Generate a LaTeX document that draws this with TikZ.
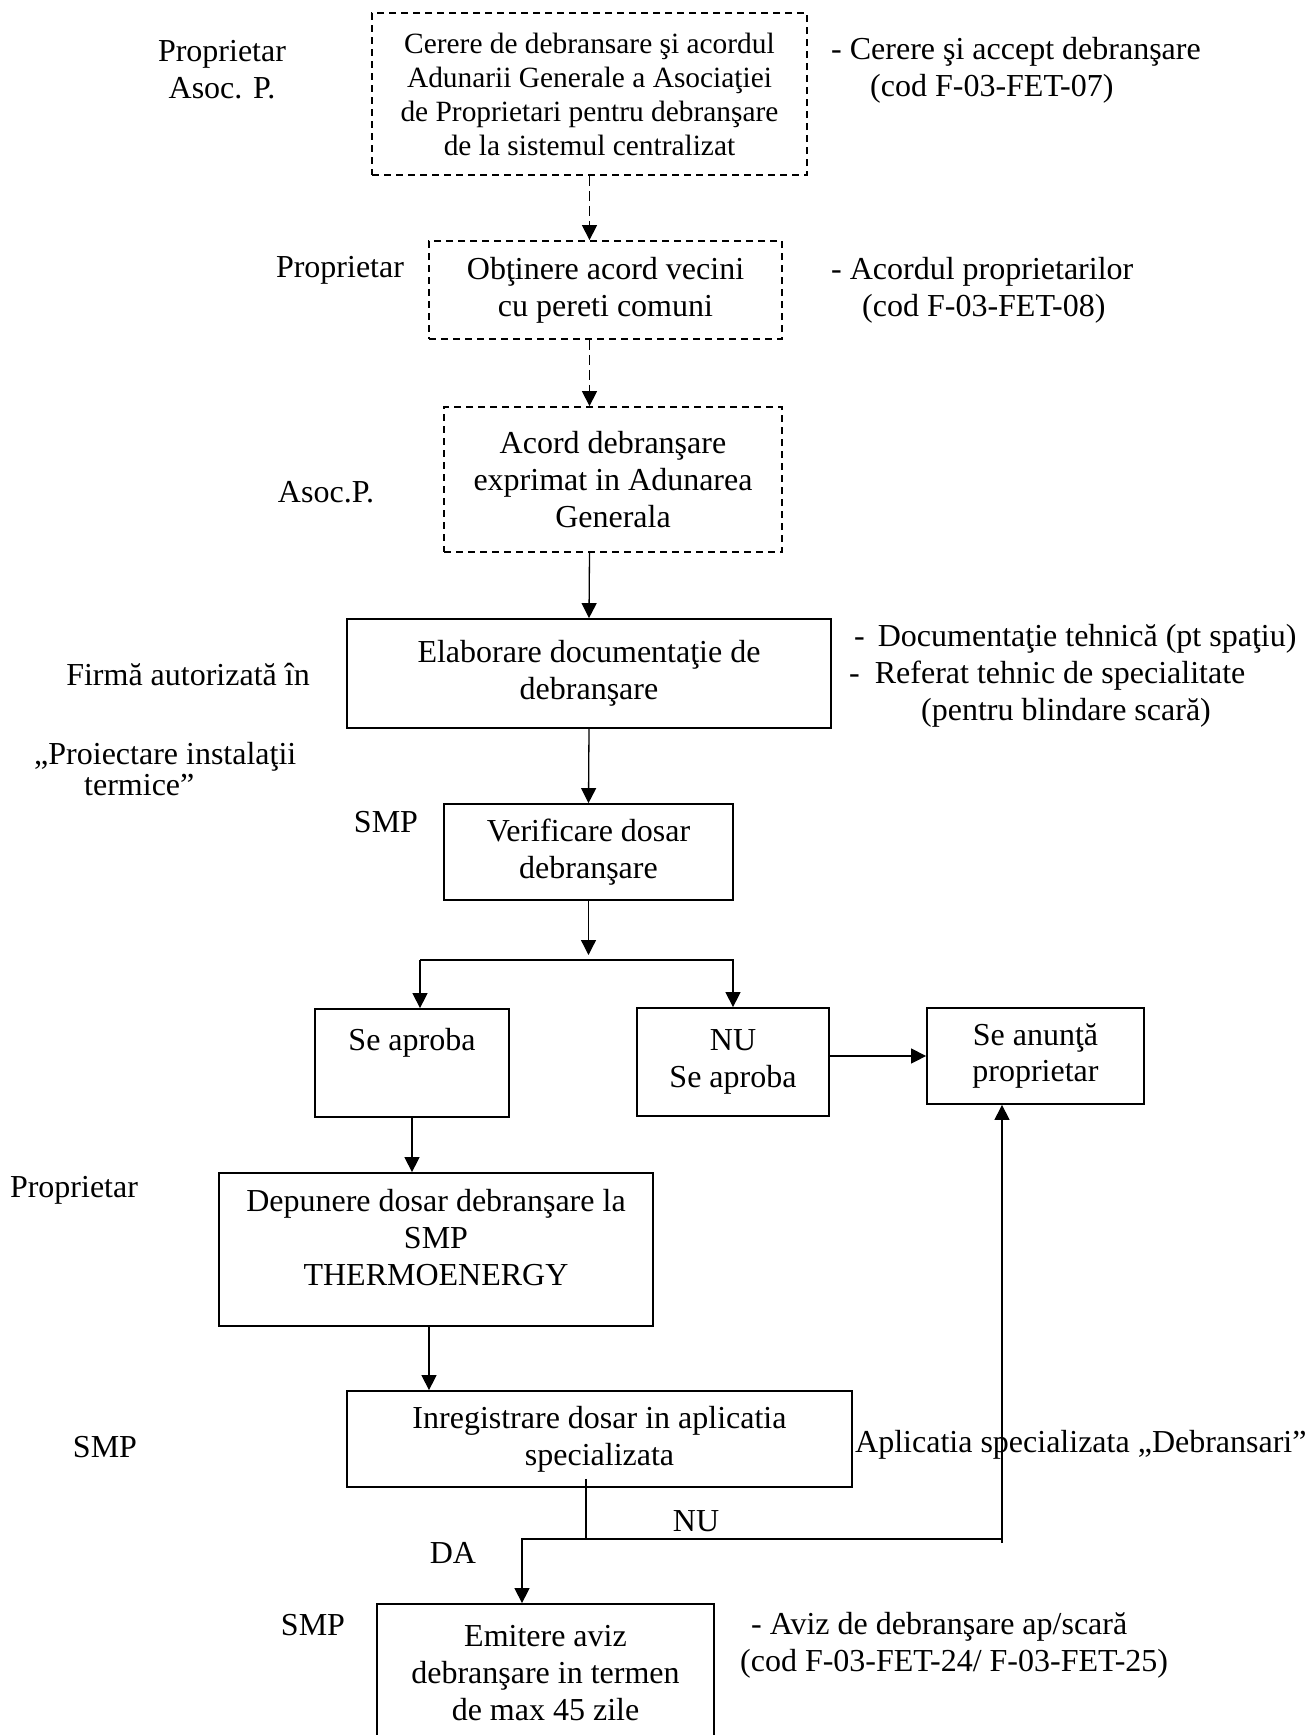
\documentclass[tikz,border=0pt]{standalone}
\usepackage{fontspec}
\setmainfont{Liberation Serif}
\usetikzlibrary{calc, positioning}
\usetikzlibrary{arrows.meta}

\tikzset{
  box/.style={draw, line width=1.8pt, align=center, inner sep=0pt},
  dbox/.style={box, dash pattern=on 7pt off 5pt},
  arr/.style={-{Triangle[length=15pt,width=15pt]}, line width=1.3pt},
  darr/.style={arr, dash pattern=on 10pt off 5pt},
  lbl/.style={align=left, inner sep=0pt},
}

\begin{document}
\begin{tikzpicture}[x=1pt,y=-1pt,font=\fontsize{32}{36.8}\selectfont]
\useasboundingbox (0,0) rectangle (1312,1735);
\node[dbox, minimum width=435pt, minimum height=162pt, font=\fontsize{29.4}{34}\selectfont] (cerere) at (589.5,94) {Cerere de debransare şi acordul\\Adunarii Generale a Asociaţiei\\de Proprietari pentru debranşare\\de la sistemul centralizat};
\node[dbox, minimum width=353pt, minimum height=98pt] (vecini) at (605.5,290) {Obţinere acord vecini\\cu pereti comuni};
\node[dbox, minimum width=338pt, minimum height=145pt] (adunare) at (613,479.5) {Acord debranşare\\exprimat in Adunarea\\Generala};
\node[box, minimum width=484pt, minimum height=109pt] (elab) at (589,673.5) {Elaborare documentaţie de\\debranşare};
\node[box, minimum width=289pt, minimum height=96pt] (verif) at (588.5,852) {Verificare dosar\\debranşare};
\node[box, minimum width=194pt, minimum height=108pt] (aproba) at (412,1063) {Se aproba\\\strut};
\node[box, minimum width=192pt, minimum height=108pt] (nuaproba) at (733,1062) {NU\\Se aproba};
\node[box, minimum width=217pt, minimum height=96pt] (anunta) at (1035.5,1056) {Se anunţă\\proprietar};
\node[box, minimum width=434pt, minimum height=153pt] (depunere) at (436,1249.5) {Depunere dosar debranşare la\\SMP\\THERMOENERGY\\[-13pt]\mbox{}};
\node[box, minimum width=505pt, minimum height=96pt] (inreg) at (599.5,1439) {Inregistrare dosar in aplicatia\\specializata};
\node[box, minimum width=337pt, minimum height=138pt] (emitere) at (545.5,1673) {Emitere aviz\\debranşare in termen\\de max 45 zile};

\node[lbl, align=center] (rolA) at (222,70) {Proprietar\\Asoc. P.};
\node[lbl, anchor=west] (docA) at (831,70) {- Cerere şi accept debranşare\\\hspace*{39pt}(cod F-03-FET-07)};
\node[lbl] (rolB) at (340,270) {Proprietar};
\node[lbl, anchor=west] (docB) at (831,290) {- Acordul proprietarilor\\\hspace*{31pt}(cod F-03-FET-08)};
\node[lbl] (rolC) at (326,492) {Asoc.P.};
\node[lbl] (rolD) at (188,675) {Firmă autorizată în};
\node[lbl, anchor=west, font=\fontsize{32}{31}\selectfont] (rolD2) at (34,769) {„Proiectare instalaţii\\\hspace*{50pt}termice”};
\node[lbl, anchor=west] (docD) at (849,676) {\hspace*{5pt}-\hspace*{13pt}Documentaţie tehnică (pt spaţiu)\\-\hspace*{15pt}Referat tehnic de specialitate\\\hspace*{72pt}(pentru blindare scară)};
\node[lbl] (rolE) at (386,822) {SMP};
\node[lbl] (rolF) at (74,1190) {Proprietar};
\node[lbl] (rolG) at (105,1447) {SMP};
\node[lbl, anchor=west] (docG) at (855,1445) {Aplicatia specializata „Debransari”};
\node[lbl] (nu) at (696,1521) {NU};
\node[lbl] (da) at (453,1553) {DA};
\node[lbl] (rolH) at (313,1625) {SMP};
\node[lbl, anchor=west] (docH) at (740,1645) {\hspace*{11pt}- Aviz de debranşare ap/scară\\(cod F-03-FET-24/ F-03-FET-25)};

\coordinate (sl) at (420,960);
\coordinate (j) at (586,1539);
\coordinate (dacol) at (522,1539);
\coordinate (ne) at (1002,1539);

\draw[darr] (cerere.south) -- (cerere.south |- vecini.north);
\draw[darr] (cerere.south |- vecini.south) -- (cerere.south |- adunare.north);
\draw[arr] (cerere.south |- adunare.south) -- (elab.north);
\draw[arr] (elab.south) -- (verif.north);
\draw[arr] (verif.south) -- ([yshift=5pt]verif.south |- sl);
\draw[arr] (sl) -- (sl |- aproba.north);
\draw[arr] (sl) -| (nuaproba.north);
\draw[arr] (anunta.west -| nuaproba.east) -- (anunta.west);
\draw[arr] (aproba.south) -- (aproba.south |- depunere.north);
\draw[arr] ([xshift=-7pt]depunere.south) -- ([xshift=-7pt]depunere.south |- inreg.north);
\draw[line width=1.3pt] ([yshift=9pt]inreg.south -| j) -- (j) -- (ne);
\draw[arr] (j) -- (dacol) -- (dacol |- emitere.north);
\draw[arr] ([yshift=-4pt]ne) -- (ne |- anunta.south);
\end{tikzpicture}
\end{document}
